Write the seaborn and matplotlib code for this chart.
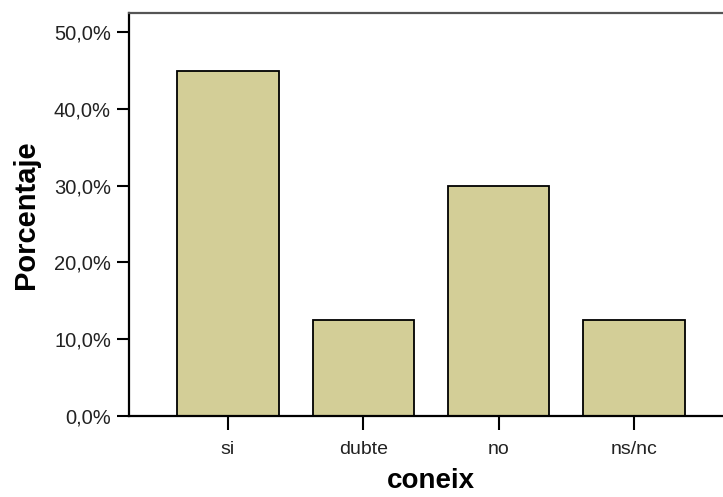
import pandas as pd
import numpy as np
import matplotlib
matplotlib.use("Agg")
import matplotlib.pyplot as plt
from matplotlib.ticker import FuncFormatter
import seaborn as sns

categorias = ["si", "dubte", "no", "ns/nc"]
porcentajes = [45.0, 12.5, 30.0, 12.5]
yticks = [0, 10, 20, 30, 40, 50]

df = pd.DataFrame({"coneix": categorias, "Porcentaje": porcentajes})

sns.set_style("white")
plt.rcParams["font.family"] = ["Liberation Sans", "DejaVu Sans"]

fig = plt.figure(figsize=(7.23, 4.97), dpi=100)
ax = fig.add_axes([129/723, 1-416/497, (733-129)/723, (416-13)/497])

sns.barplot(data=df, x="coneix", y="Porcentaje", color="#d3ce97",
            edgecolor="black", linewidth=1.3, width=0.75, saturation=1, ax=ax)

ax.set_xlim(-0.73, 3.73)
ax.set_ylim(0, 52.5)
ax.set_yticks(yticks)
ax.yaxis.set_major_formatter(FuncFormatter(lambda v, p: f"{v:.1f}%".replace(".", ",")))

for s in ["left", "bottom"]:
    ax.spines[s].set_color("black")
    ax.spines[s].set_linewidth(1.6)
ax.spines["top"].set_color("#555555")
ax.spines["top"].set_linewidth(1.6)
ax.spines["right"].set_visible(False)

ax.tick_params(axis="y", direction="out", length=9, width=1.5, color="black",
               labelsize=14.5, pad=4, left=True, labelcolor="#222222")
ax.tick_params(axis="x", direction="out", length=10, width=1.5, color="black",
               labelsize=14, pad=8, bottom=True, labelcolor="#222222")

ax.set_xlabel("coneix", fontsize=20, fontweight="bold", labelpad=7, color="black")
ax.set_ylabel("Porcentaje", fontsize=21, fontweight="bold", labelpad=10, color="black")

fig.savefig("out.png", dpi=100)
